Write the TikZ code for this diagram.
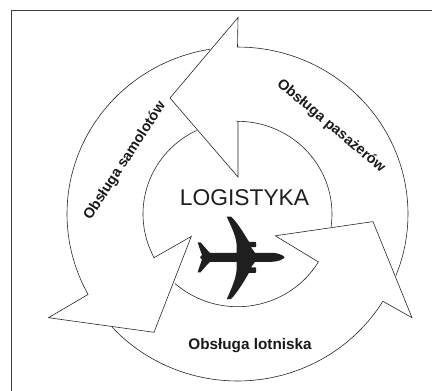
\documentclass[tikz,border=0pt]{standalone}
\usepackage{fontspec}
\setmainfont{Liberation Sans}
\tikzset{
  outline/.style={draw=black!85,line width=0.6pt,line join=miter},
  frameline/.style={draw=black!75,line width=0.9pt},
  planeshape/.style={fill=black!88,draw=none},
  lab/.style={font=\bfseries\fontsize{14.5}{16}\selectfont,text=black!90,inner sep=0pt},
  title/.style={font=\fontsize{22.8}{25}\selectfont,text=black!88,inner sep=0pt}
}
\begin{document}
\begin{tikzpicture}[x=1pt,y=-1pt]
\useasboundingbox (0,0) rectangle (432,391);
\draw[frameline] (11,391) -- (11,10.5) -- (432,10.5);
% top arrow
\draw[outline] plot[smooth,domain=21.6:-90,samples=30] ({237.5+170.5*cos(\x)},{214+167*sin(\x)})
  -- (238,17.5) -- (170,98) -- (238,177) -- (238,121.5)
  -- plot[smooth,domain=-90:8,samples=30] ({237.5+94.5*cos(\x)},{214+92.7*sin(\x)});
% lower arrow
\draw[outline] plot[smooth,domain=137.3:31.5,samples=30] ({237.5+170.5*cos(\x)},{214+167*sin(\x)})
  -- (412,317.7) -- (373,221.6) -- (275.3,235.8) -- (318,261.7)
  -- plot[smooth,domain=31.1:131.6,samples=30] ({237.5+94.5*cos(\x)},{214+92.7*sin(\x)});
% left arrow
\draw[outline] plot[smooth,domain=260.7:151.2,samples=30] ({237.5+170.5*cos(\x)},{214+167*sin(\x)})
  -- (48.5,317.7) -- (154,332.3) -- (191.3,236.4) -- (154,257.7)
  -- plot[smooth,domain=152:244.4,samples=30] ({237.5+94.5*cos(\x)},{214+92.7*sin(\x)});
% labels
\node[title] (logi) at (244.5,198) {LOGISTYKA};
\node[lab,rotate=57] (samo) at (125,161) {Obsługa samolotów};
\node[lab,rotate=-40] (pasa) at (331,126) {Obsługa pasażerów};
\node[lab,font=\bfseries\fontsize{15.3}{17}\selectfont] (lotn) at (250,345.5) {Obsługa lotniska};
% aircraft
\fill[planeshape] (284.7,257.3) .. controls (283,255) and (278,253) .. (272,252.8)
  -- (255,252.8) -- (251,247.2) -- (255.5,247.2) .. controls (256.5,247) and (256.5,242) .. (255.5,241.8) -- (249,241.8)
  .. controls (243,232) and (237,222) .. (231,216.7) -- (226.7,216.7)
  .. controls (231,226) and (236,236) .. (236.5,244) -- (236.5,252.8)
  -- (212,252.8) -- (210,252.8) .. controls (206,249) and (203,245) .. (200.5,242.3) -- (197.7,242.3)
  .. controls (199,247) and (201,252) .. (202,255) -- (200,257.3) -- (202,259.6)
  .. controls (201,262.6) and (199,267.6) .. (197.7,272.3) -- (200.5,272.3)
  .. controls (203,269.6) and (206,265.6) .. (210,261.8)
  -- (236.5,261.8) -- (236.5,270.6) .. controls (236,278.6) and (231,289.6) .. (226.7,299.3) -- (231,299)
  .. controls (237,293) and (243,283) .. (249,272.8)
  -- (255.5,272.8) .. controls (256.5,272.6) and (256.5,267.6) .. (255.5,267.4) -- (251,267.4) -- (255,261.8)
  -- (272,261.8) .. controls (278,261.6) and (283,259.6) .. (284.7,257.3) -- cycle;
\end{tikzpicture}
\end{document}
